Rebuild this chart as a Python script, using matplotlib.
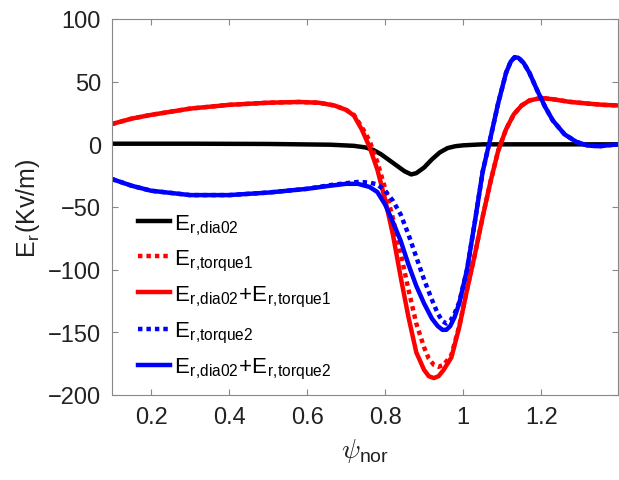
import matplotlib
matplotlib.use("Agg")
import matplotlib.pyplot as plt

plt.rcParams['font.family'] = ['Liberation Sans', 'DejaVu Sans']
plt.rcParams['mathtext.fontset'] = 'cm'

# E_r,dia02
x_dia = [0.1, 0.3, 0.5, 0.66, 0.72, 0.75, 0.77, 0.79, 0.81, 0.83, 0.85, 0.867,
         0.88, 0.9, 0.92, 0.94, 0.96, 0.98, 1.0, 1.05, 1.2, 1.4]
y_dia = [0.5, 0.5, 0.3, -0.3, -1.2, -2.5, -4.5, -8, -12.5, -17, -21.5, -24,
         -23, -18.5, -12, -6.5, -3, -1.5, -0.8, 0, 0, 0]

# E_r,torque1 and E_r,dia02+E_r,torque1
x_red = [0.1, 0.15, 0.2, 0.3, 0.4, 0.5, 0.58, 0.63, 0.67, 0.7, 0.72, 0.74,
         0.76, 0.78, 0.8, 0.82, 0.84, 0.86, 0.88, 0.9, 0.912, 0.925, 0.937,
         0.95, 0.97, 0.99, 1.01, 1.03, 1.05, 1.07, 1.09, 1.11, 1.13, 1.15,
         1.17, 1.2, 1.23, 1.27, 1.32, 1.36, 1.4]
y_torque1 = [16.2, 20.5, 23.5, 28.5, 31.5, 33.2, 33.8, 33.2, 31, 27.5, 23.5, 14,
             3, -14, -35, -59, -87, -116, -143, -162, -171, -176, -177.5,
             -176, -168, -145, -116, -88, -58, -30, -5, 12, 24, 31,
             35, 37, 36, 34, 32.5, 31.5, 31]
y_sum1 = [16.2, 20.5, 23.5, 28.5, 31.5, 33.2, 33.8, 33.2, 31, 27.5, 23, 12,
          -2, -20, -44, -72, -106, -138, -166, -180, -185, -186.5, -185,
          -180, -170, -146, -116, -88, -58, -30, -5, 12, 24, 31,
          35, 37, 36, 34, 32.5, 31.5, 31]

# E_r,torque2 and E_r,dia02+E_r,torque2
x_blue = [0.1, 0.15, 0.2, 0.3, 0.4, 0.5, 0.6, 0.66, 0.7, 0.73, 0.76, 0.78,
          0.8, 0.82, 0.84, 0.86, 0.88, 0.9, 0.92, 0.935, 0.947, 0.957, 0.967,
          0.978, 0.99, 1.01, 1.03, 1.05, 1.07, 1.09, 1.11, 1.122, 1.132,
          1.142, 1.155, 1.17, 1.19, 1.21, 1.23, 1.26, 1.29, 1.32, 1.35, 1.38, 1.4]
y_torque2 = [-27.7, -33, -37, -40.5, -40.5, -38.5, -35.5, -32.5, -31, -30, -30.5, -32,
             -37, -45, -56, -72, -90, -108, -124, -135, -141, -143, -141,
             -135, -126, -100, -62, -22, 5, 33, 57, 66, 69.5,
             69, 65, 57, 43, 30, 19, 8, 2, -1, -1.5, -0.5, 0]
y_sum2 = [-27.7, -33, -37, -40.5, -40.5, -38.5, -35.5, -33, -31.5, -31.5, -34, -38,
          -48, -62, -77, -96, -113, -127, -139, -145, -148, -148, -145,
          -138, -127, -100, -62, -22, 5, 33, 57, 66, 69.5,
          69, 65, 57, 43, 30, 19, 8, 2, -1, -1.5, -0.5, 0]

labels = [r'$\mathregular{E}_{\mathregular{r{,}dia02}}$',
          r'$\mathregular{E}_{\mathregular{r{,}torque1}}$',
          r'$\mathregular{E}_{\mathregular{r{,}dia02}}\mathregular{+E}_{\mathregular{r{,}torque1}}$',
          r'$\mathregular{E}_{\mathregular{r{,}torque2}}$',
          r'$\mathregular{E}_{\mathregular{r{,}dia02}}\mathregular{+E}_{\mathregular{r{,}torque2}}$']

fig = plt.figure(figsize=(6.19, 4.81), dpi=100)
ax = fig.add_axes([112/619, 85/481, 506/619, 376/481])

lw = 3.2
dots = (0, (1, 0.9))
ax.plot(x_dia, y_dia, color='black', lw=lw, label=labels[0])
ax.plot(x_red, y_torque1, color='red', lw=lw, ls=dots, label=labels[1])
ax.plot(x_red, y_sum1, color='red', lw=lw, label=labels[2])
ax.plot(x_blue, y_torque2, color='blue', lw=lw, ls=dots, label=labels[3])
ax.plot(x_blue, y_sum2, color='blue', lw=lw, label=labels[4])

ax.set_xlim(0.1, 1.397)
ax.set_ylim(-200, 100)
ax.set_xticks([0.2, 0.4, 0.6, 0.8, 1.0, 1.2])
ax.set_xticklabels(['0.2', '0.4', '0.6', '0.8', '1', '1.2'])
ax.set_yticks([-200, -150, -100, -50, 0, 50, 100])
ax.tick_params(direction='in', top=True, right=True, length=4, width=0.8,
               color='#888888', labelsize=17, labelcolor='#222222', pad=8)
for s in ax.spines.values():
    s.set_color('#888888')
    s.set_linewidth(0.8)

ax.set_ylabel(r'$\mathregular{E}_{\mathregular{r}}\mathregular{(Kv/m)}$', fontsize=18,
              color='#222222', labelpad=4)
ax.set_xlabel(r'$\psi_{\mathregular{nor}}$', fontsize=20, color='#222222', labelpad=6)

ax.legend(loc='upper left', bbox_to_anchor=(138/619, 1 - 213/481),
          bbox_transform=fig.transFigure, frameon=False, fontsize=16,
          handlelength=1.45, handletextpad=0.18, labelspacing=0.49,
          borderpad=0, borderaxespad=0)

fig.savefig('out.png', dpi=100)
